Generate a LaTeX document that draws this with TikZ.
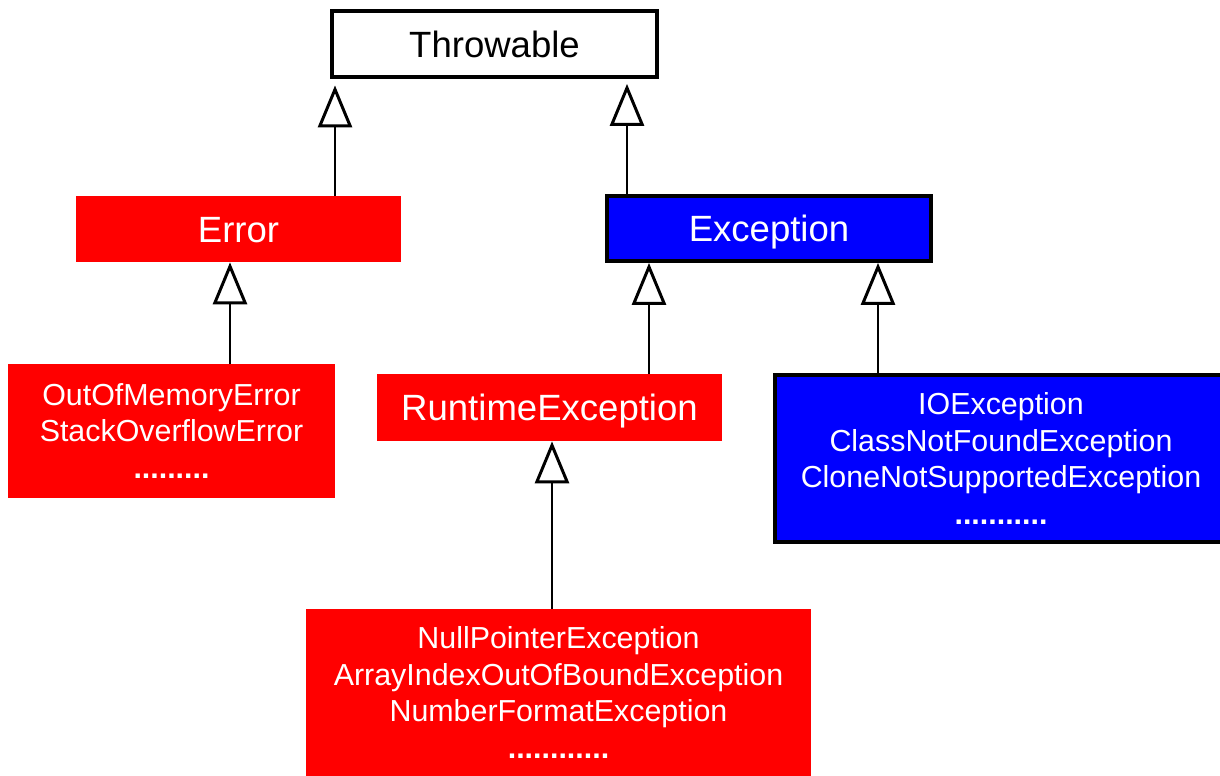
\documentclass[tikz,border=0pt]{standalone}
\usepackage{fontspec}
\setmainfont{Liberation Sans}
\usetikzlibrary{arrows.meta}

\begin{document}
\begin{tikzpicture}[x=0.02cm,y=-0.02cm,
    every node/.style={inner sep=0pt,align=center,text=white,font=\fontsize{17.3}{21}\selectfont},
    title/.style={font=\fontsize{20.8}{24}\selectfont,text height=14.9pt,text depth=0pt},
    errbox/.style={fill=red},
    excbox/.style={fill=blue,draw=black,line width=2.2pt},
    isa/.style={line width=1.1pt,-{Triangle[open,width=0.68cm,length=0.84cm,line width=1.7pt]}}]
    \useasboundingbox (0,0) rectangle (1220,776);

    % Root
    \node[title,draw=black,line width=2.2pt,fill=white,text=black,
          minimum width=6.5cm,minimum height=1.32cm] (throwable) at (494.5,44) {Throwable};

    % Direct subclasses
    \node[title,errbox,minimum width=6.5cm,minimum height=1.32cm] (error) at (238.5,229) {Error};
    \node[title,excbox,minimum width=6.48cm,minimum height=1.3cm] (exception) at (769,228.5) {Exception};

    % Leaves and runtime branch
    \node[errbox,minimum width=6.54cm,minimum height=2.68cm] (errors) at (171.5,431)
        {OutOfMemoryError\\StackOverflowError\\\textbf{.........}};
    \node[title,errbox,minimum width=6.9cm,minimum height=1.34cm] (runtime) at (549.5,407.5) {RuntimeException};
    \node[excbox,minimum width=9.04cm,minimum height=3.34cm] (checked) at (1001,458.5)
        {IOException\\ClassNotFoundException\\CloneNotSupportedException\\\textbf{...........}};
    \node[errbox,minimum width=10.1cm,minimum height=3.34cm] (unchecked) at (558.5,692.5)
        {NullPointerException\\ArrayIndexOutOfBoundException\\NumberFormatException\\\textbf{............}};

    % Inheritance arrows
    \draw[isa,shorten >=0.13cm] (error.north -| 335,0) -- (throwable.south -| 335,0);
    \draw[isa,shorten >=0.1cm] (exception.north -| 627,0) -- (throwable.south -| 627,0);
    \draw[isa] (errors.north -| 230,0) -- (error.south -| 230,0);
    \draw[isa] (runtime.north -| 649,0) -- (exception.south -| 649,0);
    \draw[isa] (checked.north -| 878,0) -- (exception.south -| 878,0);
    \draw[isa] (unchecked.north -| 552,0) -- (runtime.south -| 552,0);
\end{tikzpicture}
\end{document}
